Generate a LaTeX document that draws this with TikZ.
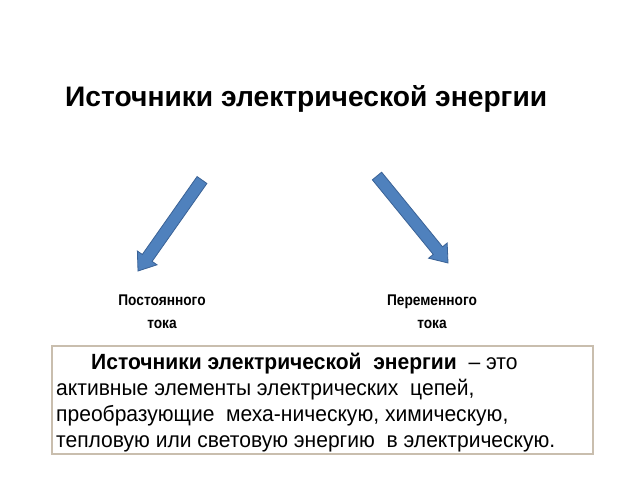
\documentclass[tikz,border=0pt]{standalone}
\usepackage{fontspec}
\setmainfont{Liberation Sans}
\newfontfamily\labelfont[FakeStretch=0.885]{Liberation Sans}
\newfontfamily\boxfont[FakeStretch=0.957]{Liberation Sans}
\usetikzlibrary{calc}
\definecolor{arrowfill}{HTML}{4F81BD}
\definecolor{arrowline}{HTML}{3A6296}
\definecolor{boxline}{HTML}{C9BEAE}
\tikzset{
  title/.style={font=\fontsize{28.2}{32}\selectfont\bfseries, inner sep=0pt},
  label/.style={font=\labelfont\fontsize{15.5}{23}\selectfont\bfseries, align=center, inner sep=0pt},
  defbox/.style={draw=boxline, line width=1.5pt, minimum width=541pt, minimum height=108pt, inner sep=0pt},
  deftext/.style={font=\boxfont\fontsize{22}{26}\selectfont, align=left, inner sep=0pt},
  bigarrow/.style={fill=arrowfill, draw=arrowline, line width=0.8pt, line join=miter}
}
\newcommand\blockarrow[2]{%
  \path[bigarrow]
    ($(#1)!6pt!90:(#2)$) --
    ($($(#2)!16pt!(#1)$)!6pt!90:(#2)$) --
    ($($(#2)!16pt!(#1)$)!12pt!90:(#2)$) --
    (#2) --
    ($($(#2)!16pt!(#1)$)!12pt!-90:(#2)$) --
    ($($(#2)!16pt!(#1)$)!6pt!-90:(#2)$) --
    ($(#1)!6pt!-90:(#2)$) -- cycle;}
\begin{document}
\begin{tikzpicture}[x=1pt,y=-1pt]
\useasboundingbox (0,0) rectangle (640,480);
\node[title, anchor=base west] (t) at (65,106) {Источники электрической энергии};
\coordinate (la) at (202,180);
\coordinate (lb) at (138,271);
\coordinate (ra) at (377,176);
\coordinate (rb) at (448,263);
\blockarrow{la}{lb}
\blockarrow{ra}{rb}
\node[label] (dc) at (162,312) {Постоянного\\тока};
\node[label] (ac) at (432,312) {Переменного\\тока};
\node[defbox, anchor=north west] (box) at (51,345) {};
\node[deftext, anchor=north west] (def) at (56,352.5) {\hspace*{35pt}\textbf{Источники электрической\ \ энергии}\ \ – это\\
активные элементы электрических\ \ цепей,\\
преобразующие\ \ меха-ническую, химическую,\\
тепловую или световую энергию\ \ в электрическую.};
\end{tikzpicture}
\end{document}
